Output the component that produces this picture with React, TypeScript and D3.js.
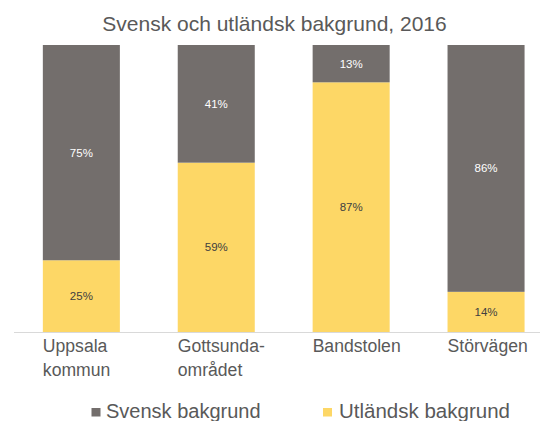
import React from "react";
import * as d3 from "d3";

const categories: string[][] = [["Uppsala", "kommun"], ["Gottsunda-", "området"], ["Bandstolen"], ["Störvägen"]];
const utlandsk = [25, 59, 87, 14];
const svensk = [75, 41, 13, 86];
const seriesNames = ["Svensk bakgrund", "Utländsk bakgrund"];
const title = "Svensk och utländsk bakgrund, 2016";

const W = 540, H = 421;
const GRAY = "#736e6c";
const YELLOW = "#fdd766";
const TEXT = "#595959";
const FONT = "'Liberation Sans', Arial, sans-serif";

export default function App() {
  const x = d3.scaleBand<number>().domain(d3.range(categories.length)).range([13.9, 553.5]).paddingInner(0.429).paddingOuter(0.2145);
  const y = d3.scaleLinear().domain([0, 100]).range([332, 45]);
  return (
    <svg width={W} height={H} style={{ position: "absolute", left: 0, top: 0 }} fontFamily={FONT}>
      <rect width={W} height={H} fill="#fff" />
      <text x={274.5} y={31} textAnchor="middle" fontSize={21} fill={TEXT}>{title}</text>
      {categories.map((c, i) => {
        const x0 = x(i)!;
        const bw = x.bandwidth();
        return (
          <g key={i}>
            <rect x={x0} y={y(utlandsk[i])} width={bw} height={y(0) - y(utlandsk[i])} fill={YELLOW} />
            <rect x={x0} y={y(utlandsk[i] + svensk[i])} width={bw} height={y(utlandsk[i]) - y(utlandsk[i] + svensk[i])} fill={GRAY} />
            <text x={x0 + bw / 2} y={(y(0) + y(utlandsk[i])) / 2} dy="0.35em" textAnchor="middle" fontSize={11.5} fill="#404040">{utlandsk[i]}%</text>
            <text x={x0 + bw / 2} y={(y(utlandsk[i]) + y(100)) / 2} dy="0.35em" textAnchor="middle" fontSize={11.5} fill="#ffffff">{svensk[i]}%</text>
            {c.map((line, j) => (
              <text key={j} x={x0} y={352 + j * 24} fontSize={17.6} fill={TEXT}>{line}</text>
            ))}
          </g>
        );
      })}
      <line x1={14} x2={540} y1={332.5} y2={332.5} stroke="#d9d9d9" strokeWidth={1} />
      <rect x={91.5} y={408} width={9} height={8.5} fill={GRAY} />
      <text x={106} y={418} fontSize={20} fill={TEXT}>{seriesNames[0]}</text>
      <rect x={323} y={408} width={9} height={8.5} fill={YELLOW} />
      <text x={339} y={418} fontSize={20.5} fill={TEXT}>{seriesNames[1]}</text>
    </svg>
  );
}
